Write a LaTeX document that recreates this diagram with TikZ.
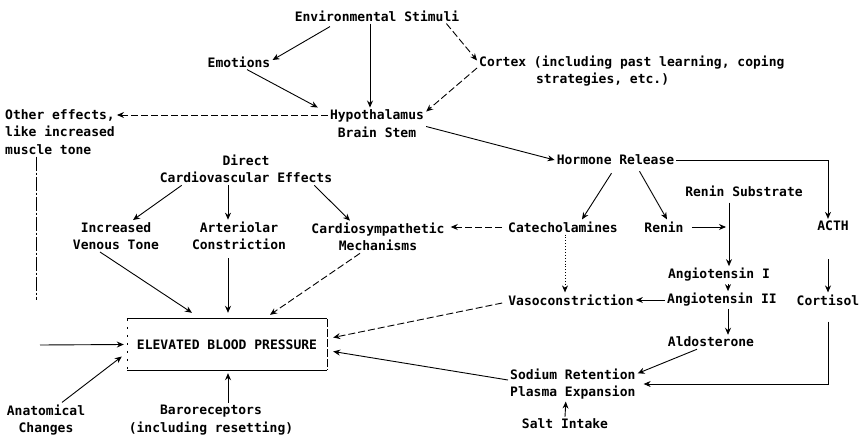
\documentclass[tikz,border=0pt]{standalone}
\usepackage{fontspec}
\setmonofont{DejaVu Sans Mono}
\usetikzlibrary{arrows.meta}
\tikzset{
  lbl/.style={font={\ttfamily\bfseries\fontsize{13}{17.5}\selectfont}, inner sep=2pt, align=center},
  arr/.style={-{Stealth[length=7pt,width=6pt]}, line width=0.9pt},
  faint/.style={arr, dash pattern=on 7pt off 3pt},
  dots/.style={arr, dotted},
}
\begin{document}
\begin{tikzpicture}[x=1pt,y=-1pt]
\useasboundingbox (0,0) rectangle (862,436);
% top part
\node[lbl] (env) at (377,16) {Environmental Stimuli};
\node[lbl] (emo) at (239,62) {Emotions};
\node[lbl,anchor=west,align=left] (ctx) at (477,71) {Cortex (including past learning, coping\\\hspace*{8ex}strategies, etc.)};
\node[lbl] (hyp) at (377,123.5) {Hypothalamus\\Brain Stem};
\node[lbl,anchor=west,align=left] (oth) at (3,132) {Other effects,\\like increased\\muscle tone};
% left part
\node[lbl] (dir) at (246,169) {Direct\\Cardiovascular Effects};
\node[lbl] (ivt) at (116,236) {Increased\\Venous Tone};
\node[lbl] (art) at (239,236) {Arteriolar\\Constriction};
\node[lbl] (csm) at (378,237) {Cardiosympathetic\\Mechanisms};
\node[lbl,minimum width=200pt,minimum height=51pt] (ebp) at (227,344.5) {ELEVATED BLOOD PRESSURE};
\node[lbl] (anat) at (46,420) {Anatomical\\Changes};
\node[lbl] (baro) at (211,420) {Baroreceptors\\(including resetting)};
% right part
\node[lbl] (hor) at (615.5,160) {Hormone Release};
\node[lbl] (cat) at (563,227) {Catecholamines};
\node[lbl] (ren) at (664,227) {Renin};
\node[lbl] (rsub) at (744,191) {Renin Substrate};
\node[lbl] (acth) at (833,226) {ACTH};
\node[lbl] (ang1) at (719,275) {Angiotensin I};
\node[lbl] (ang2) at (722,300) {Angiotensin II};
\node[lbl] (cort) at (828,300) {Cortisol};
\node[lbl] (vaso) at (571,300) {Vasoconstriction};
\node[lbl] (ald) at (711,342) {Aldosterone};
\node[lbl,anchor=west,align=left] (sod) at (508,384) {Sodium Retention\\Plasma Expansion};
\node[lbl] (salt) at (565,424) {Salt Intake};
\coordinate (othend) at (36,300);
\coordinate (lin) at (40,345);
\coordinate (rj) at (726,227);
% box sides
\draw[line width=0.9pt] (ebp.north west) -- (ebp.north east);
\draw[line width=0.9pt] (ebp.south west) -- (ebp.south east);
\draw[line width=0.6pt,dash pattern=on 2pt off 6pt] (ebp.north west) -- (ebp.south west);
\draw[line width=0.9pt,dash pattern=on 8pt off 2pt] (ebp.north east) -- (ebp.south east);
% connectors
\draw[arr] ([xshift=-47pt,yshift=-3pt]env.south) -- ([yshift=2pt]emo.east);
\draw[arr] ([xshift=-7pt]env.south) -- ([xshift=-7pt]hyp.north);
\draw[faint] ([xshift=-15pt]env.south east) -- ([yshift=-7pt]ctx.north west);
\draw[arr] ([xshift=8pt]emo.south) -- ([xshift=-10pt]hyp.north west);
\draw[faint] ([yshift=3pt]ctx.west) -- ([yshift=-4pt]hyp.north east);
\draw[faint] ([yshift=8.5pt]hyp.west) -- ([yshift=17pt]oth.east);
\draw[arr] ([yshift=-3pt]hyp.east) -- (hor.west);
\draw[line width=0.6pt,dash pattern=on 14pt off 2pt on 2pt off 2pt] ([xshift=33pt]oth.south west) -- (othend);
\draw[arr] (lin) -- ([xshift=-3pt]ebp.west);
\draw[arr] ([xshift=24pt]dir.south west) -- ([xshift=17pt]ivt.north);
\draw[arr] ([xshift=-18pt]dir.south) -- ([xshift=-11pt]art.north);
\draw[arr] ([xshift=-20pt]dir.south east) -- ([xshift=-28pt]csm.north);
\draw[arr] ([xshift=-16pt]ivt.south) -- ([xshift=-35pt,yshift=6pt]ebp.north);
\draw[arr] ([xshift=-11pt,yshift=-6pt]art.south) -- ([xshift=1pt,yshift=6pt]ebp.north);
\draw[faint] ([xshift=-18pt]csm.south) -- ([xshift=43pt,yshift=4pt]ebp.north);
\draw[arr] ([xshift=-4pt,yshift=-6pt]hor.south) -- ([xshift=19pt]cat.north);
\draw[arr] ([xshift=24pt,yshift=-4pt]hor.south) -- ([xshift=3pt]ren.north);
\draw[arr] (hor.east) -| ([xshift=-5pt]acth.north);
\draw[faint] ([xshift=-4pt]cat.west) -- ([xshift=4pt,yshift=10pt]csm.east);
\draw[dots] ([xshift=2pt]cat.south) -- ([xshift=-6pt]vaso.north);
\draw[arr] ([xshift=6pt]ren.east) -- (rj);
\draw[arr] ([xshift=-15pt,yshift=-4pt]rsub.south) -- ([xshift=10pt]ang1.north);
\draw[arr] ([xshift=9pt]ang1.south) -- ([xshift=6pt]ang2.north);
\draw[arr] (ang2.west) -- (vaso.east);
\draw[arr] ([xshift=6pt]ang2.south) -- ([xshift=17pt]ald.north);
\draw[arr] ([xshift=-5pt,yshift=-26pt]acth.south) -- (cort.north);
\draw[arr] ([xshift=-14pt]ald.south) -- ([yshift=-7pt]sod.north east);
\draw[arr] ([yshift=-14pt]cort.south) |- ([xshift=6pt]sod.east);
\draw[arr] (salt.north) -- ([xshift=-7pt]sod.south);
\draw[faint] ([xshift=-4pt,yshift=-3pt]vaso.west) -- ([xshift=6pt,yshift=7pt]ebp.east);
\draw[arr] ([yshift=4pt]sod.west) -- ([xshift=6pt,yshift=-7pt]ebp.east);
\draw[arr] ([xshift=16pt]anat.north) -- ([xshift=-5pt,yshift=-12pt]ebp.west);
\draw[arr] ([xshift=17pt]baro.north) -- ([xshift=1pt,yshift=-3pt]ebp.south);
\end{tikzpicture}
\end{document}
